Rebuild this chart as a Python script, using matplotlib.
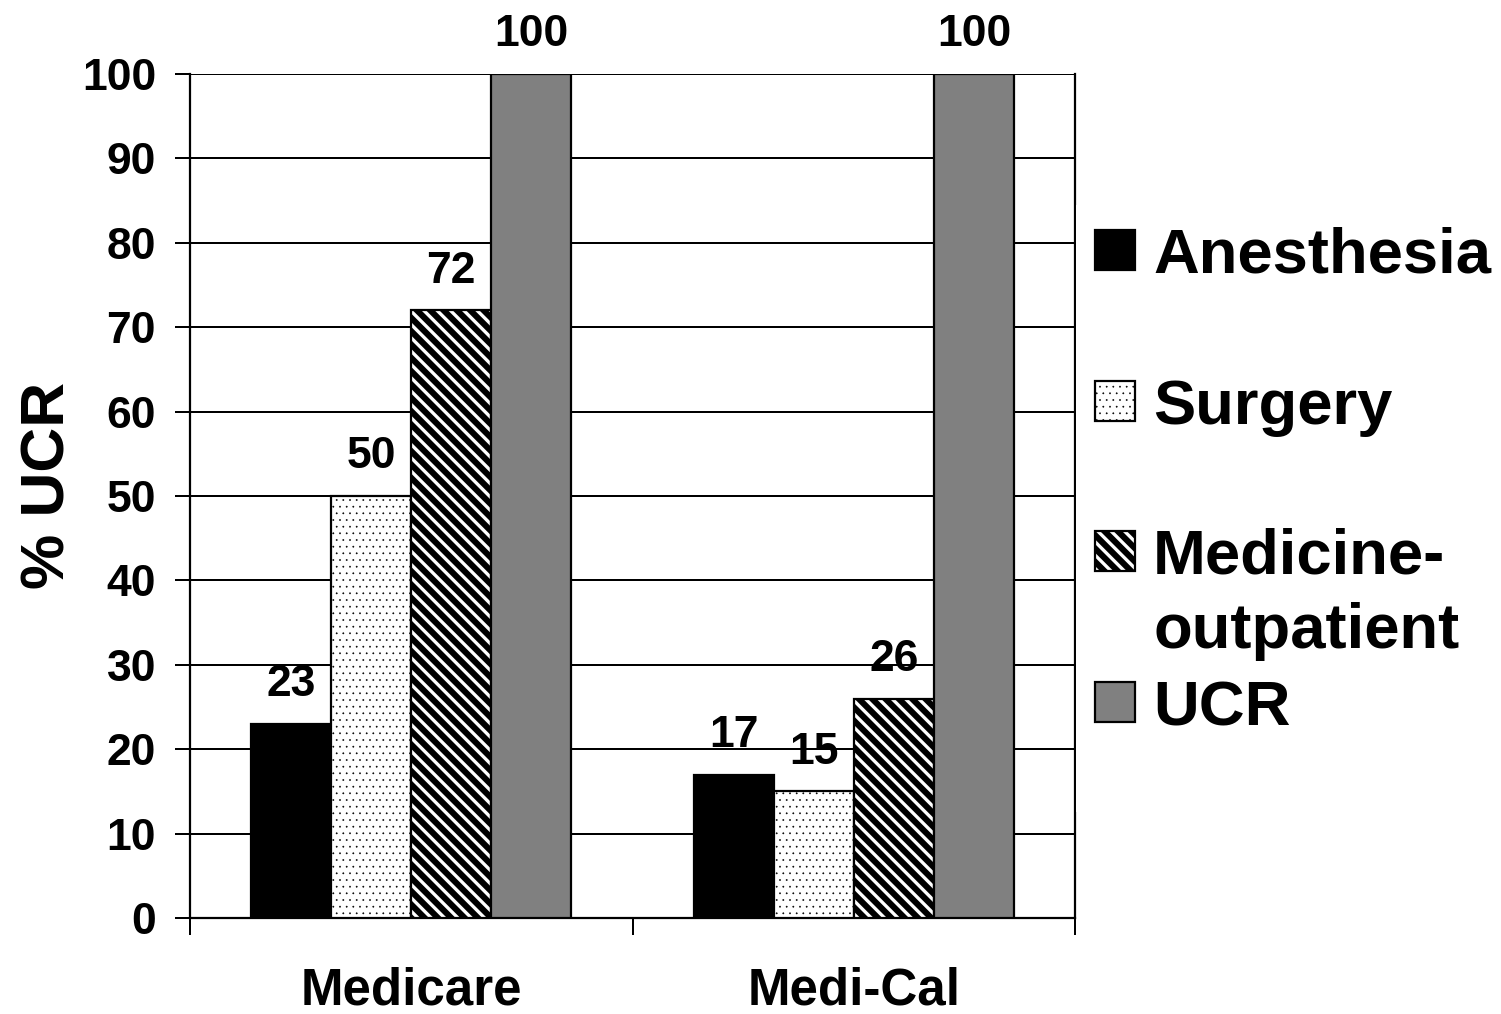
import numpy as np
import matplotlib
matplotlib.use('Agg')
import matplotlib.pyplot as plt
from matplotlib.patches import Rectangle

# Data
categories = ['Medicare', 'Medi-Cal']
series = ['Anesthesia', 'Surgery', 'Medicine-\noutpatient', 'UCR']
anesthesia = [23, 17]
surgery = [50, 15]
medicine = [72, 26]
ucr = [100, 100]
y_ticks = [0, 10, 20, 30, 40, 50, 60, 70, 80, 90, 100]

plt.rcParams['font.family'] = ['Liberation Sans', 'DejaVu Sans']
plt.rcParams['font.weight'] = 'bold'

DPI = 80
fig = plt.figure(figsize=(1501 / DPI, 1014 / DPI), dpi=DPI)
ax = fig.add_axes([190 / 1501, 1 - 918 / 1014, 885 / 1501, 844 / 1014])

# bar styles: (values, facecolor, hatch, hatch linewidth)
styles = [
    (anesthesia, 'black', None, 1.0),
    (surgery, 'white', '..', 0.4),
    (medicine, 'white', '\\\\', 5.5),
    (ucr, '#808080', None, 1.0),
]

x = np.arange(len(categories))
width = 0.181
offsets = [-1.5, -0.5, 0.5, 1.5]

for (vals, fc, hatch, hlw), off in zip(styles, offsets):
    with plt.rc_context({'hatch.linewidth': hlw}):
        bars = ax.bar(x + off * width, vals, width, color=fc, edgecolor='black',
                      linewidth=2, hatch=hatch, zorder=3)
    for b, v in zip(bars, vals):
        ax.annotate(str(v), (b.get_x() + b.get_width() / 2, v),
                    xytext=(0, 25), textcoords='offset points',
                    ha='center', va='baseline', fontsize=40, fontweight='bold',
                    annotation_clip=False)

ax.set_xlim(-0.5, 1.5)
ax.set_ylim(0, 100)
ax.set_yticks(y_ticks)
ax.grid(axis='y', color='black', linewidth=1.8, zorder=0)
ax.set_axisbelow(True)

ax.tick_params(axis='y', labelsize=40, length=13.5, width=1.8, pad=17)
ax.set_xticks([-0.5, 0.5, 1.5])
ax.set_xticklabels([])
ax.tick_params(axis='x', which='major', length=15, width=1.8)
ax.set_xticks(x, minor=True)
ax.set_xticklabels(categories, minor=True, fontsize=46, fontweight='bold')
ax.tick_params(axis='x', which='minor', length=0, pad=44)

ax.spines['top'].set_visible(False)
for s in ['left', 'bottom', 'right']:
    ax.spines[s].set_linewidth(2)

ax.set_ylabel('% UCR', fontsize=56, fontweight='bold')
ax.yaxis.set_label_coords(-0.127, 0.512)

# white legend area covering the middle of the right spine
fig.patches.append(Rectangle((1076 / 1501, 1 - 812 / 1014), 425 / 1501, 607 / 1014,
                             transform=fig.transFigure, facecolor='white',
                             edgecolor='none', zorder=5))

# legend entries (figure pixel positions)
sq = 40
centers = [250, 401, 551, 702]
for (vals, fc, hatch, hlw), cy, name in zip(styles, centers, series):
    with plt.rc_context({'hatch.linewidth': hlw}):
        r = Rectangle((1095 / 1501, 1 - (cy + sq / 2) / 1014), sq / 1501, sq / 1014,
                      transform=fig.transFigure, facecolor=fc, edgecolor='black',
                      linewidth=2, hatch=hatch, zorder=6)
    fig.patches.append(r)
    lines = name.split('\n')
    for i, line in enumerate(lines):
        fig.text(1153 / 1501, 1 - (cy + 23 + i * 74) / 1014, line, fontsize=57,
                 fontweight='bold', ha='left', va='baseline', zorder=7)

fig.savefig('out.png', dpi=DPI)
